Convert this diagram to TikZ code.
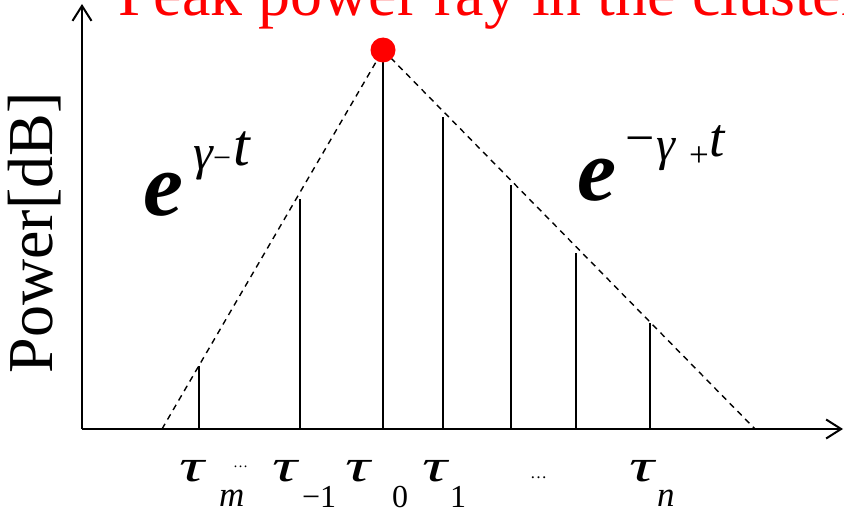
\documentclass[tikz,border=0pt]{standalone}
\usepackage{fontspec}
\setmainfont{Liberation Serif}
\usetikzlibrary{arrows.meta}
\newcommand{\fsz}[1]{\fontsize{#1}{#1}\selectfont}
\tikzset{
  axisline/.style={line width=2pt, -{Straight Barb[length=15pt,width=19pt,line width=2pt]}},
  stemline/.style={line width=1.6pt},
  envline/.style={line width=1.4pt, dash pattern=on 6pt off 5pt},
  lbl/.style={anchor=base west, inner sep=0pt, outer sep=0pt},
  taulbl/.style={lbl, font=\fsz{56}\itshape, xscale=1.25, yscale=0.82},
}
\begin{document}
\begin{tikzpicture}[x=1pt,y=-1pt]
\useasboundingbox (0,0) rectangle (844,511);
% axes
\coordinate (O) at (82,429);
\coordinate (ytop) at (82,4);
\coordinate (xend) at (843,429);
\draw[axisline] (O) -- (ytop);
\draw[axisline] (O) -- (xend);
% envelope
\coordinate (lstart) at (162,429);
\coordinate (rend) at (755,429);
\coordinate (pk) at (383,50);
\draw[envline] (lstart) -- (pk);
\draw[envline] (pk) -- (rend);
% stems
\foreach \nm/\x/\y in {sm/199/366, sa/300/199, s0/383/50, s1/443/117, s2/511/185, s3/576/253, s4/650/323}{
  \coordinate (\nm b) at (\x,429);
  \coordinate (\nm t) at (\x,\y);
  \draw[stemline] (\nm b) -- (\nm t);
}
% peak dot
\node[circle, fill=red, minimum size=25pt, inner sep=0pt] (peak) at (pk) {};
% title
\node[lbl, text=red, font=\fsz{64}] (title) at (118,16) {Peak power ray in the cluster};
% y label
\node[rotate=90, anchor=base, inner sep=0pt, font=\fsz{64}] (ylab) at (52,233) {Power[dB]};
% left formula
\node[lbl, font=\fsz{90}\bfseries\itshape] (le) at (143,215) {e};
\node[lbl, font=\fsz{50}\itshape] (lg) at (193,169) {γ};
\node[lbl, font=\fsz{32}] (lm) at (213,168) {−};
\node[lbl, font=\fsz{60}\itshape] (lt) at (233,165) {t};
% right formula
\node[lbl, font=\fsz{88}\bfseries\itshape] (re) at (577,200) {e};
\node[lbl, font=\fsz{52}] (rm) at (625,155) {−};
\node[lbl, font=\fsz{48}\itshape] (rg) at (656,160) {γ};
\node[lbl, font=\fsz{35}] (rp) at (689,166) {+};
\node[lbl, font=\fsz{55}\itshape] (rt) at (709,157) {t};
% tau labels
\node[taulbl] (tm) at (179,481) {τ};
\node[lbl, font=\fsz{35}\itshape] (tms) at (219,506) {m};
\node[lbl, font=\fsz{15}] (tmd) at (233,467) {…};
\node[taulbl] (ta) at (272,481) {τ};
\node[lbl, font=\fsz{32}] (tas) at (302,507) {−1};
\node[taulbl] (t0) at (345,481) {τ};
\node[lbl, font=\fsz{32}] (t0s) at (392,507) {0};
\node[taulbl] (t1) at (422,481) {τ};
\node[lbl, font=\fsz{32}] (t1s) at (450,507) {1};
\node[lbl, font=\fsz{17}] (dots) at (530,478) {…};
\node[taulbl] (tn) at (629,481) {τ};
\node[lbl, font=\fsz{35}\itshape] (tns) at (657,506) {n};
\end{tikzpicture}
\end{document}
